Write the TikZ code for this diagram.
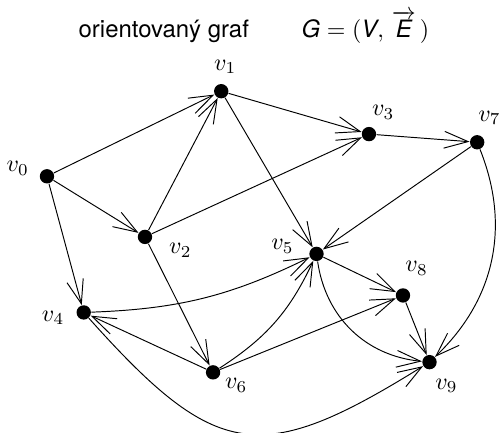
\documentclass[tikz,border=0pt]{standalone}
\usepackage{fontspec}
\usepackage{amsmath}
\usepackage{tikz}
\usetikzlibrary{arrows.meta}
\newfontfamily\headfont{TeX Gyre Heros}

\begin{document}
\begin{tikzpicture}[>={Straight Barb[length=10pt,width=7pt]},
  vertex/.style={circle,fill,inner sep=0pt,minimum size=6pt},
  edge/.style={->,thin}]
  \useasboundingbox (0,0) rectangle (7.36,-6.35);
  \node[font=\headfont,inner sep=0pt] (title) at (3.73,-0.40)
    {orientovaný graf\hspace{2.2em}$\textit{G}=(\textit{V},\,\overrightarrow{\textit{E}}\,)$};
  % vertices
  \node[vertex] (v0) at (0.69,-2.59) {};
  \node[vertex] (v1) at (3.25,-1.34) {};
  \node[vertex] (v2) at (2.13,-3.48) {};
  \node[vertex] (v3) at (5.42,-1.97) {};
  \node[vertex] (v4) at (1.23,-4.59) {};
  \node[vertex] (v5) at (4.65,-3.73) {};
  \node[vertex] (v6) at (3.13,-5.47) {};
  \node[vertex] (v7) at (7.01,-2.09) {};
  \node[vertex] (v8) at (5.92,-4.34) {};
  \node[vertex] (v9) at (6.31,-5.32) {};
  % labels
  \node (l0) at (0.26,-2.47) {$v_0$};
  \node (l1) at (3.31,-0.98) {$v_1$};
  \node (l2) at (2.65,-3.68) {$v_2$};
  \node (l3) at (5.63,-1.65) {$v_3$};
  \node (l4) at (0.78,-4.67) {$v_4$};
  \node (l5) at (4.15,-3.62) {$v_5$};
  \node (l6) at (3.47,-5.66) {$v_6$};
  \node (l7) at (7.19,-1.73) {$v_7$};
  \node (l8) at (6.12,-3.94) {$v_8$};
  \node (l9) at (6.56,-5.67) {$v_9$};
  % edges
  \draw[edge] (v0) -- (v1);
  \draw[edge] (v0) -- (v2);
  \draw[edge] (v0) -- (v4);
  \draw[edge] (v2) -- (v1);
  \draw[edge] (v1) -- (v3);
  \draw[edge] (v2) -- (v3);
  \draw[edge] (v1) -- (v5);
  \draw[edge] (v2) -- (v6);
  \draw[edge] (v3) -- (v7);
  \draw[edge] (v7) -- (v5);
  \draw[edge] (v6) -- (v4);
  \draw[edge] (v6) -- (v8);
  \draw[edge] (v5) -- (v8);
  \draw[edge] (v8) -- (v9);
  \draw[edge] (v4) to[bend right=12] (v5);
  \draw[edge] (v6) to[bend right=16] (v5);
  \draw[edge] (v5) to[bend right=38] (v9);
  \draw[edge] (v7) to[bend left=34] (v9);
  \draw[edge] (v4) to[bend right=40,looseness=1.45] (v9);
\end{tikzpicture}
\end{document}
